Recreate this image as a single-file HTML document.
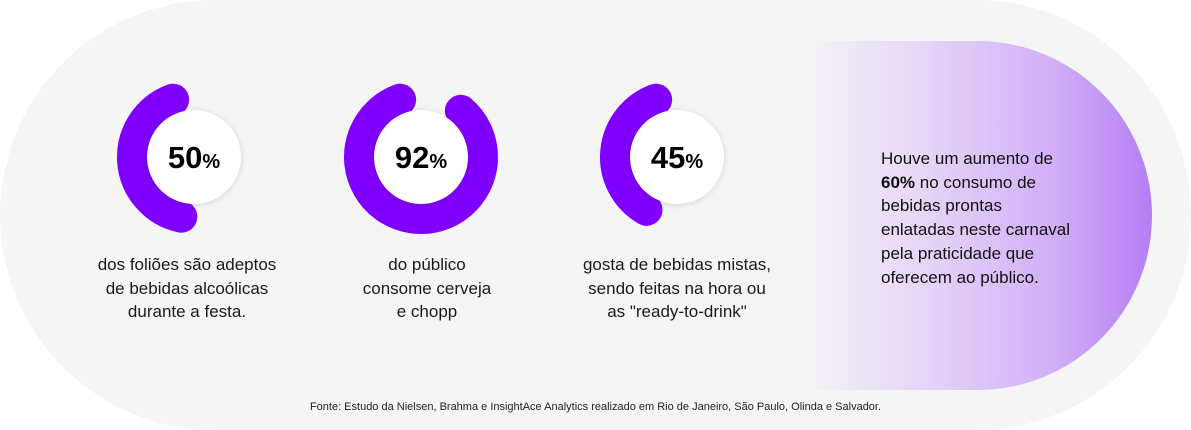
<!DOCTYPE html>
<html><head><meta charset="utf-8"><style>
html,body{margin:0;padding:0;background:#fff;}
body{width:1191px;height:430px;position:relative;overflow:hidden;font-family:"Liberation Sans",sans-serif;}
.bg{position:absolute;left:0;top:0;width:1191px;height:430px;border-radius:215px;background:#f5f5f5;}
.panel{position:absolute;left:815px;top:41px;width:337px;height:349px;border-radius:0 175px 175px 0;background:linear-gradient(90deg,#f3f1f6 0%,#e6d8f6 30%,#d2b0f7 70%,#b57ef5 100%);}
.ptext{position:absolute;left:881px;top:147px;font-size:17px;line-height:23.7px;color:#111;}
.lbl{position:absolute;width:260px;text-align:center;font-size:17px;line-height:23.5px;color:#1a1a1a;}
.foot{position:absolute;left:0;width:1191px;top:401px;text-align:center;font-size:11px;color:#222;}
svg{position:absolute;left:0;top:0;}
</style></head><body>
<div class="bg"></div>
<div class="panel"></div>
<div class="ptext">Houve um aumento de<br><b>60%</b> no consumo de<br>bebidas prontas<br>enlatadas neste carnaval<br>pela praticidade que<br>oferecem ao público.</div>
<svg id="chart" width="1191" height="430">
<defs><filter id="sh" x="-30%" y="-30%" width="160%" height="160%"><feDropShadow dx="0" dy="1" stdDeviation="3" flood-color="#000" flood-opacity="0.15"/></filter></defs>
</svg>
<div class="lbl" style="left:57px;top:253px">dos foliões são adeptos<br>de bebidas alcoólicas<br>durante a festa.</div>
<div class="lbl" style="left:297px;top:253px">do público<br>consome cerveja<br>e chopp</div>
<div class="lbl" style="left:547px;top:253px">gosta de bebidas mistas,<br>sendo feitas na hora ou<br>as "ready-to-drink"</div>
<div class="foot">Fonte: Estudo da Nielsen, Brahma e InsightAce Analytics realizado em Rio de Janeiro, São Paulo, Olinda e Salvador.</div>
<script>
const categories = ['foliões', 'público', 'mistas'];
const values = [50, 92, 45];
const centersX = [194, 421, 677];
const NS = 'http://www.w3.org/2000/svg';
const svg = document.getElementById('chart');
const cy = 157, R = 61, SW = 32, RW = 47;
function pt(a){return a*Math.PI/180;}
values.forEach((v, i) => {
  const cx = centersX[i];
  const a0 = 20, a1 = 20 + v*3.6 - 32; // ccw degrees from top
  const x0 = cx - R*Math.sin(pt(a0)), y0 = cy - R*Math.cos(pt(a0));
  const x1 = cx - R*Math.sin(pt(a1)), y1 = cy - R*Math.cos(pt(a1));
  const large = (a1 - a0) > 180 ? 1 : 0;
  const p = document.createElementNS(NS, 'path');
  p.setAttribute('d', `M${x0} ${y0} A${R} ${R} 0 ${large} 0 ${x1} ${y1}`);
  p.setAttribute('fill', 'none');
  p.setAttribute('stroke', '#8000ff');
  p.setAttribute('stroke-width', SW);
  p.setAttribute('stroke-linecap', 'round');
  
  
  svg.appendChild(p);
  const c = document.createElementNS(NS, 'circle');
  c.setAttribute('cx', cx); c.setAttribute('cy', cy); c.setAttribute('r', RW);
  c.setAttribute('fill', '#fff'); c.setAttribute('filter', 'url(#sh)');
  
  
  svg.appendChild(c);
  const t = document.createElementNS(NS, 'text');
  t.setAttribute('x', cx); t.setAttribute('y', cy + 11);
  t.setAttribute('text-anchor', 'middle');
  t.setAttribute('font-family', 'Liberation Sans, sans-serif');
  t.setAttribute('font-weight', 'bold');
  t.setAttribute('fill', '#000');
  
  
  const n = document.createElementNS(NS, 'tspan');
  n.setAttribute('font-size', '31'); n.textContent = v;
  const s = document.createElementNS(NS, 'tspan');
  s.setAttribute('font-size', '20'); s.textContent = '%';
  t.appendChild(n); t.appendChild(s);
  svg.appendChild(t);
});
</script>
</body></html>
